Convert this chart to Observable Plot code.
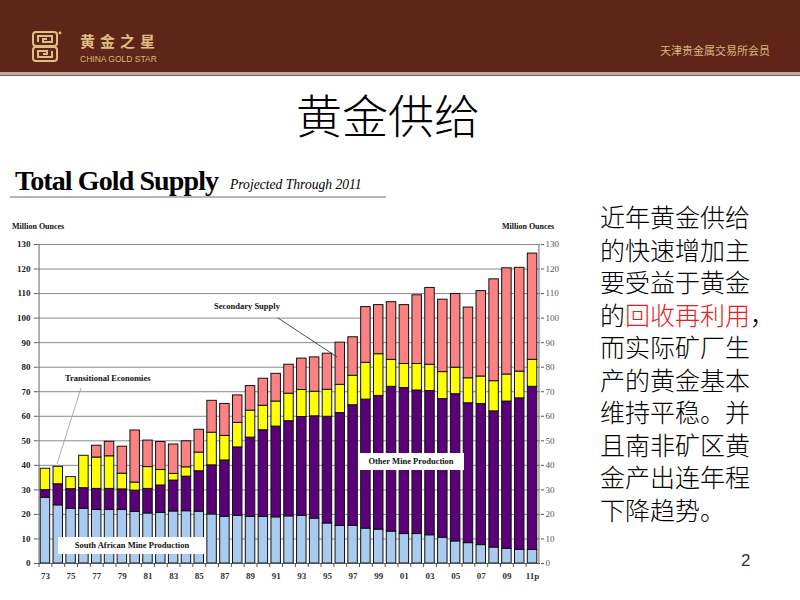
<!DOCTYPE html>
<html><head><meta charset="utf-8">
<script src="https://cdn.jsdelivr.net/npm/d3@7"></script>
<script src="https://cdn.jsdelivr.net/npm/@observablehq/plot@0.6"></script>
<style>
html,body{margin:0;padding:0}
body{width:800px;height:600px;overflow:hidden;background:#fff;position:relative;font-family:"Noto Sans CJK SC","Noto Sans",sans-serif}
.abs{position:absolute}
#header{left:0;top:0;width:800px;height:72px;background:#5f2519}
#hline1{left:0;top:72px;width:800px;height:3px;background:#b9aca8}
#hline2{left:0;top:75px;width:800px;height:1px;background:#7a5a50}
#brand{left:80px;top:33px;color:#dfbe84;font-size:15px;font-weight:bold;letter-spacing:5px;line-height:16px;white-space:nowrap}
#brandEn{left:80px;top:55px;color:#d9b77c;font-family:"Liberation Sans",sans-serif;font-size:8.5px;line-height:8px;white-space:nowrap}
#member{left:660px;top:43px;color:#d9b77c;font-size:11px;line-height:14px;white-space:nowrap}
#title{left:0;top:84px;width:776px;text-align:center;font-size:46px;font-weight:300;line-height:58px;color:#000}
#ctitle{left:15px;top:164px;font-family:"Liberation Serif",serif;font-size:28px;font-weight:bold;letter-spacing:-0.9px;line-height:34px;color:#000;white-space:nowrap}
#csub{left:230px;top:177px;font-family:"Liberation Serif",serif;font-style:italic;font-size:13.6px;line-height:16px;white-space:nowrap}
#cline{left:10px;top:196px;width:376px;height:2px;background:#b5b5b5}
.mo{font-family:"Liberation Serif",serif;font-size:8px;font-weight:bold;line-height:10px;white-space:nowrap;color:#111}
#plotwrap{left:0;top:220px}
.box{background:#fff;font-family:"Liberation Serif",serif;font-size:8.5px;font-weight:bold;line-height:17px;text-align:center;white-space:nowrap;color:#111}
.lab{font-family:"Liberation Serif",serif;font-size:8.5px;font-weight:bold;line-height:10px;white-space:nowrap;color:#111}
#text{left:600px;top:200px;font-size:25px;font-weight:300;line-height:32.5px;color:#000;white-space:nowrap}
#text .red{color:#e31e24}
#pnum{left:741px;top:551px;font-family:"Liberation Sans",sans-serif;font-size:17px;color:#333}
</style></head><body>
<div id="header" class="abs"></div>
<div id="hline1" class="abs"></div>
<div id="hline2" class="abs"></div>
<svg class="abs" style="left:31px;top:30px" width="32" height="34" viewBox="0 0 32 34">
  <g fill="none" stroke="#dfbe84" stroke-width="2">
    <rect x="2" y="2" width="24" height="14" rx="3"/>
    <rect x="2" y="17" width="24" height="14" rx="3"/>
    <path d="M7 12 V6 H21 V12 H12 V9 H16"/>
    <path d="M21 21 V27 H7 V21 H16 V24 H12"/>
  </g>
  <circle cx="29" cy="3" r="1.4" fill="#dfbe84"/>
</svg>
<div id="brand" class="abs">黄金之星</div>
<div id="brandEn" class="abs">CHINA GOLD STAR</div>
<div id="member" class="abs">天津贵金属交易所会员</div>
<div id="title" class="abs">黄金供给</div>
<div id="ctitle" class="abs">Total Gold Supply</div>
<div id="csub" class="abs">Projected Through 2011</div>
<div id="cline" class="abs"></div>
<div class="abs mo" style="left:12px;top:222px">Million Ounces</div>
<div class="abs mo" style="left:502px;top:222px">Million Ounces</div>
<div id="plotwrap" class="abs"></div>
<svg class="abs" style="left:0;top:0;pointer-events:none" width="800" height="600">
  <line x1="81" y1="388" x2="57" y2="464" stroke="#999" stroke-width="0.8"/>
  <line x1="278" y1="318" x2="337" y2="357" stroke="#222" stroke-width="0.8"/>
</svg>
<div class="abs lab" style="left:65px;top:373px">Transitional Economies</div>
<div class="abs lab" style="left:214px;top:301px">Secondary Supply</div>
<div class="abs box" style="left:358px;top:453px;width:106px;height:17px">Other Mine Production</div>
<div class="abs box" style="left:58px;top:537px;width:148px;height:17px">South African Mine Production</div>
<div id="text" class="abs">近年黄金供给<br>的快速增加主<br>要受益于黄金<br>的<span class="red">回收再利用</span>，<br>而实际矿厂生<br>产的黄金基本<br>维持平稳。并<br>且南非矿区黄<br>金产出连年程<br>下降趋势。</div>
<div id="pnum" class="abs">2</div>
<script>
const years = [1973,1974,1975,1976,1977,1978,1979,1980,1981,1982,1983,1984,1985,1986,1987,1988,1989,1990,1991,1992,1993,1994,1995,1996,1997,1998,1999,2000,2001,2002,2003,2004,2005,2006,2007,2008,2009,2010,2011];
const seriesNames = ["South African Mine Production","Other Mine Production","Transitional Economies","Secondary Supply"];
const seriesColors = ["#a8cbef","#5a0078","#ffff00","#fa8282"];
const southAfrican = [26.8,23.7,22.3,22.3,21.8,21.8,21.8,21.0,20.4,20.6,21.2,21.3,21.1,20.0,19.0,19.4,19.0,19.0,18.8,19.2,19.4,18.3,16.3,15.3,15.3,14.2,13.8,13.0,12.0,12.0,11.5,10.5,9.0,8.3,7.5,6.5,6.0,5.5,5.5];
const otherMine = [3.1,8.6,8.0,8.4,8.6,8.6,8.4,8.7,10.0,11.2,12.6,14.1,16.5,20.0,23.0,27.9,32.3,35.3,37.0,38.8,40.3,41.7,43.5,46.0,49.2,52.6,54.5,59.0,59.5,58.5,58.8,56.5,60.0,57.0,57.5,55.5,60.0,61.8,66.5];
const transitional = [8.7,7.1,4.9,13.2,12.8,13.3,6.4,3.3,8.9,6.3,2.7,3.8,7.6,13.3,10.0,10.0,11.0,10.0,10.2,11.2,11.0,10.0,11.0,11.5,12.0,15.0,17.0,11.0,9.8,10.8,10.7,11.0,10.8,10.2,11.2,12.3,11.0,10.9,11.0];
const secondary = [0,0,0,0,4.8,5.9,11.0,21.2,10.8,11.4,12.0,10.6,9.3,13.0,13.0,11.2,10.0,11.0,11.3,11.8,12.8,14.0,14.7,17.2,15.7,22.7,20.0,23.5,24.0,28.0,31.3,29.5,30.0,28.8,34.8,41.5,43.3,42.3,43.3];
const yTicks = [0,10,20,30,40,50,60,70,80,90,100,110,120,130];
const xTickYears = [1973,1975,1977,1979,1981,1983,1985,1987,1989,1991,1993,1995,1997,1999,2001,2003,2005,2007,2009,2011];
const xTickLabels = ["73","75","77","79","81","83","85","87","89","91","93","95","97","99","01","03","05","07","09","11p"];

const seriesValues = [southAfrican, otherMine, transitional, secondary];
const data = [];
years.forEach((yr, i) => {
  seriesNames.forEach((s, k) => {
    data.push({year: yr, series: s, value: seriesValues[k][i]});
  });
});

const W = 580, H = 370, mL = 37, mR = 40;
const padInner = 0.26, padOuter = 0.25;
const step = (W - mL - mR) / (years.length - padInner + 2 * padOuter);

const chart = Plot.plot({
  width: W, height: H,
  marginTop: 24, marginBottom: 27, marginLeft: mL, marginRight: mR,
  x: {type: "band", domain: years, paddingInner: padInner, paddingOuter: padOuter, axis: null},
  y: {domain: [0, 130], axis: null},
  color: {domain: seriesNames, range: seriesColors},
  style: {fontFamily: "Liberation Serif, serif", fontSize: "9px", fontWeight: "bold", color: "#222", background: "transparent", overflow: "visible"},
  marks: [
    Plot.ruleY(yTicks, {stroke: "#8a8a8a", strokeWidth: 1}),
    Plot.barY(data.filter(d => d.value > 0), Plot.stackY({x: "year", y: "value", z: "series", fill: "series", stroke: "#111", strokeWidth: 1})),
    Plot.axisY({anchor: "left", ticks: yTicks, tickSize: 3, tickPadding: 4, label: null, stroke: "#555"}),
    Plot.axisY({anchor: "right", ticks: yTicks, tickSize: 3, tickPadding: 2, label: null, stroke: "#555", fill: "#555", fontWeight: "normal"}),
    Plot.axisX({ticks: years, tickSize: 4, tickFormat: () => "", dx: -step / 2, label: null, stroke: "#555"}),
    Plot.axisX({ticks: xTickYears, tickSize: 0, tickPadding: 9, tickFormat: d => xTickLabels[xTickYears.indexOf(d)], label: null, fill: "#333"}),
    Plot.ruleX([years[0]], {dx: -step / 2, stroke: "#666"}),
    Plot.ruleX([years[years.length - 1]], {dx: step / 2, stroke: "#666"}),
    Plot.ruleY([0], {stroke: "#555"})
  ]
});
document.getElementById("plotwrap").appendChild(chart);
</script>
</body></html>
